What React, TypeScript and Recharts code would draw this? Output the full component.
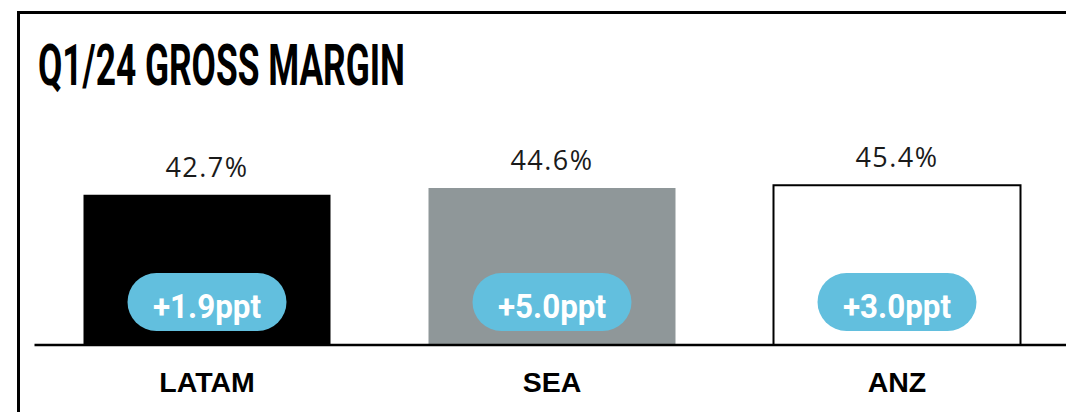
import { BarChart, Bar, XAxis, YAxis, Cell, LabelList } from 'recharts';

// chart values
const regions = ['LATAM', 'SEA', 'ANZ'];
const grossMargin = [42.7, 44.6, 45.4];
const changePpt = [1.9, 5.0, 3.0];

const barFills = ['#000000', '#8F9799', '#FFFFFF'];
const barStrokes = ['none', 'none', '#000000'];
const PILL = '#62BFDE';

const data = regions.map((region, i) => ({
    region,
    margin: grossMargin[i],
    change: changePpt[i],
}));

const ValueLabel = (props: any) => {
    const { x, y, width, value } = props;
    return (
        <text
            x={x + width / 2}
            y={y - 18}
            textAnchor="middle"
            fontFamily="'Open Sans', 'Noto Sans', sans-serif"
            fontSize={27}
            letterSpacing={1.5}
            fill="#1a1a1a"
        >
            {`${value.toFixed(1)}%`}
        </text>
    );
};

const ChangePill = (props: any) => {
    const { x, y, width, height, index } = props;
    const cx = x + width / 2;
    const bottom = y + height;
    const w = 159;
    const h = 58;
    return (
        <g>
            <rect x={cx - w / 2} y={bottom - 72} width={w} height={h} rx={h / 2} ry={h / 2} fill={PILL} />
            <text
                x={cx}
                y={bottom - 27}
                textAnchor="middle"
                fontFamily="Roboto, 'DejaVu Sans', sans-serif"
                fontWeight={700}
                fontSize={34}
                fill="#FFFFFF"
                textLength={108}
                lengthAdjust="spacingAndGlyphs"
            >
                {`+${changePpt[index].toFixed(1)}ppt`}
            </text>
        </g>
    );
};

const CategoryTick = (props: any) => {
    const { x, y, payload } = props;
    return (
        <text
            x={x}
            y={y + 47}
            textAnchor="middle"
            fontFamily="'Liberation Sans', Arial, sans-serif"
            fontWeight={700}
            fontSize={28.5}
            fill="#000"
        >
            {payload.value}
        </text>
    );
};

export default function App() {
    return (
        <div
            style={{
                position: 'absolute',
                left: 0,
                top: 0,
                width: 1066,
                height: 412,
                overflow: 'hidden',
                background: '#fff',
            }}
        >
            {/* frame: top and left rule */}
            <div style={{ position: 'absolute', left: 17, top: 11, width: 1100, height: 3, background: '#000' }} />
            <div style={{ position: 'absolute', left: 17, top: 11, width: 3, height: 420, background: '#000' }} />

            <svg style={{ position: 'absolute', left: 0, top: 0 }} width={1066} height={110}>
                <text
                    x={38}
                    y={85}
                    fontFamily="Roboto, 'DejaVu Sans', sans-serif"
                    fontWeight={700}
                    fontSize={57}
                    fill="#000"
                    textLength={367}
                    lengthAdjust="spacingAndGlyphs"
                >
                    Q1/24 GROSS MARGIN
                </text>
            </svg>

            <div style={{ position: 'absolute', left: 0, top: 0 }}>
                <BarChart
                    width={1100}
                    height={412}
                    data={data}
                    margin={{ top: 169, right: 30.5, left: 34.5, bottom: 7 }}
                >
                    <XAxis
                        dataKey="region"
                        height={60}
                        tickLine={false}
                        tickSize={0}
                        tickMargin={0}
                        axisLine={{ stroke: '#000', strokeWidth: 2.5 }}
                        tick={<CategoryTick />}
                        interval={0}
                    />
                    <YAxis hide domain={[0, 50]} />
                    <Bar dataKey="margin" barSize={247} isAnimationActive={false}>
                        {data.map((entry, index) => (
                            <Cell
                                key={`cell-${index}`}
                                fill={barFills[index]}
                                stroke={barStrokes[index]}
                                strokeWidth={2}
                            />
                        ))}
                        <LabelList dataKey="margin" content={<ValueLabel />} />
                        <LabelList dataKey="change" content={<ChangePill />} />
                    </Bar>
                </BarChart>
            </div>
        </div>
    );
}
